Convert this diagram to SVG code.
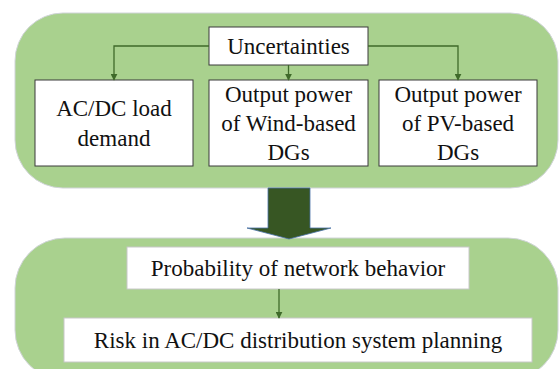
<svg xmlns="http://www.w3.org/2000/svg" width="559" height="369" viewBox="0 0 559 369">
  <style>
    .panel { fill: #a9d18e; stroke: #d0d4d8; stroke-width: 1; }
    .box { fill: #ffffff; stroke: #3a3a3a; stroke-width: 1; }
    .box-light { fill: #ffffff; stroke: #c8c8c8; stroke-width: 1; }
    .label { font-family: "Liberation Serif", "Times New Roman", serif; font-size: 23px; fill: #111111; text-anchor: middle; }
    .link { fill: none; stroke: #3f6a2a; stroke-width: 1.3; marker-end: url(#tip); }
    .flow { fill: #375623; stroke: #4a72a8; stroke-width: 0.8; }
  </style>
  <defs>
    <marker id="tip" viewBox="0 0 10 10" refX="9" refY="5" markerWidth="7" markerHeight="7" markerUnits="userSpaceOnUse" orient="auto">
      <path d="M0,0 L10,5 L0,10 z" fill="#3f6a2a"/>
    </marker>
  </defs>

  <!-- background panels -->
  <g id="panel-uncertainty">
    <rect class="panel" x="15" y="13" width="543" height="175" rx="48" ry="48"/>
  </g>
  <g id="panel-risk">
    <rect class="panel" x="15" y="238" width="543" height="142" rx="50" ry="50"/>
  </g>

  <!-- block arrow between the two stages -->
  <g id="stage-arrow">
    <path class="flow" d="M268,188 L310,188 L310,228 L331,228 L289,239 L247,228 L268,228 Z"/>
  </g>

  <!-- nodes -->
  <g id="uncertainties">
    <rect class="box" x="209" y="27" width="159" height="38"/>
    <text class="label" x="288.5" y="54">Uncertainties</text>
  </g>
  <g id="load-demand">
    <rect class="box" x="35" y="80" width="158" height="86"/>
    <text class="label" x="114" y="116">AC/DC load</text>
    <text class="label" x="114" y="146">demand</text>
  </g>
  <g id="wind-power">
    <rect class="box" x="209" y="80" width="159" height="86"/>
    <text class="label" x="288.5" y="102">Output power</text>
    <text class="label" x="288.5" y="131">of Wind-based</text>
    <text class="label" x="288.5" y="160">DGs</text>
  </g>
  <g id="pv-power">
    <rect class="box" x="379" y="80" width="158" height="86"/>
    <text class="label" x="458" y="102">Output power</text>
    <text class="label" x="458" y="131">of PV-based</text>
    <text class="label" x="458" y="160">DGs</text>
  </g>
  <g id="network-behavior">
    <rect class="box-light" x="127" y="247" width="342" height="42"/>
    <text class="label" x="298" y="276">Probability of network behavior</text>
  </g>
  <g id="planning-risk">
    <rect class="box-light" x="64" y="318" width="468" height="44"/>
    <text class="label" x="298" y="348">Risk in AC/DC distribution system planning</text>
  </g>

  <!-- connectors -->
  <g id="connectors">
    <path class="link" d="M209,46 L114,46 L114,80"/>
    <path class="link" d="M288.5,65 L288.5,80"/>
    <path class="link" d="M368,46 L458,46 L458,80"/>
    <path class="link" d="M279,289 L279,318"/>
  </g>
</svg>
